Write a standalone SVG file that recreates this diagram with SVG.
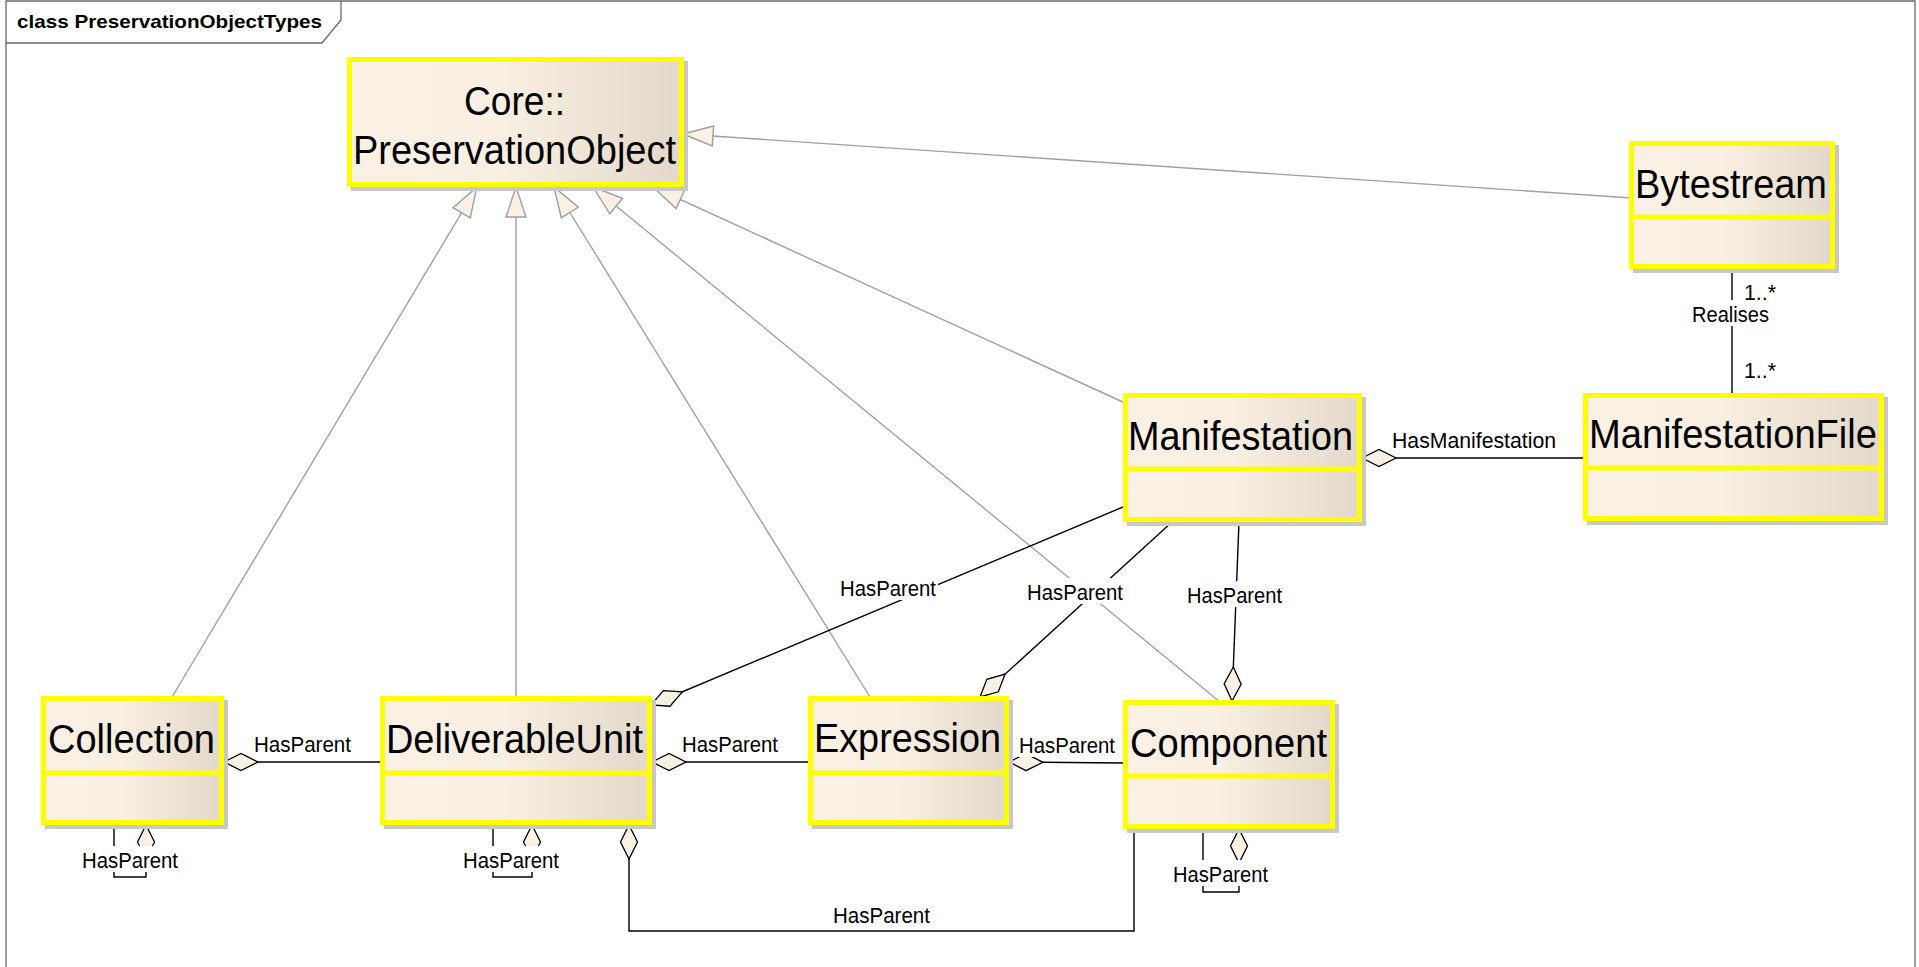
<svg xmlns="http://www.w3.org/2000/svg" width="1919" height="967" viewBox="0 0 1919 967">
<style>
.frame{fill:none;stroke:#6a6a6a;stroke-width:1.3}
.title{font-family:"Liberation Sans",Arial,sans-serif;font-weight:bold;font-size:19px;fill:#000}
.shadow{fill:#c8c8c8}
.box{fill:url(#g);stroke:#ffff00;stroke-width:5}
.div{stroke:#ffff00;stroke-width:5}
.name{font-family:"Liberation Sans",Arial,sans-serif;font-size:41px;fill:#000;text-anchor:middle}
.gen{fill:none;stroke:#a0a0a0;stroke-width:1.4;marker-end:url(#tri)}
.assoc{fill:none;stroke:#000;stroke-width:1.4}
.agg{marker-start:url(#dia)}
.lbl{font-family:"Liberation Sans",Arial,sans-serif;font-size:22px;fill:#000}
.bg{fill:#fff}
</style>
<defs>
<linearGradient id="g" x1="0" y1="0" x2="1" y2="0">
<stop offset="0" stop-color="#faf0e3"/>
<stop offset="0.45" stop-color="#f9efe2"/>
<stop offset="1" stop-color="#e2d9ca"/>
</linearGradient>
<marker id="dia" markerUnits="userSpaceOnUse" orient="auto" overflow="visible" refX="0" refY="0" markerWidth="1" markerHeight="1">
<path d="M0,0 L17,-8.5 L34,0 L17,8.5 Z" fill="#faf0e3" stroke="#000" stroke-width="1.3"/>
</marker>
<marker id="tri" markerUnits="userSpaceOnUse" orient="auto" overflow="visible" refX="0" refY="0" markerWidth="1" markerHeight="1">
<path d="M0,0 L-30,-10 L-30,10 Z" fill="#faf0e3" stroke="#a0a0a0" stroke-width="1.4"/>
</marker>
</defs>
<rect x="0" y="0" width="1919" height="967" fill="#fff"/>
<g id="frame">
<path class="frame" d="M6,968 V1 H1915 V968"/>
<path class="frame" d="M6,43 H322 L341,20 V1"/>
<text class="title" x="17" y="28" textLength="305" lengthAdjust="spacingAndGlyphs">class PreservationObjectTypes</text>
</g>
<g id="connectors">
<path class="gen" d="M172,697 L477,187"/>
<path class="gen" d="M516,696 L516,187"/>
<path class="gen" d="M870,697 L554,187"/>
<path class="gen" d="M1220,702 L593,187"/>
<path class="gen" d="M1125,403 L653,187"/>
<path class="gen" d="M1632,198 L683,134"/>
<path class="assoc agg" d="M224,762 L380,762"/>
<path class="assoc agg" d="M652,762 L808,762"/>
<path class="assoc agg" d="M1009,762 L1123,763"/>
<path class="assoc agg" d="M651,705 L1123,507"/>
<path class="assoc agg" d="M980,697 L1172,522"/>
<path class="assoc agg" d="M1232,701 L1239,522"/>
<path class="assoc agg" d="M1362,458 L1583,458"/>
<path class="assoc" d="M1732,269 L1732,393"/>
<path class="assoc agg" d="M629,825 V931 H1134 V829"/>
<path class="assoc agg" d="M146,825 V877 H114 V825"/>
<path class="assoc agg" d="M532,825 V877 H493 V825"/>
<path class="assoc agg" d="M1239,829 V892 H1203 V829"/>
</g>
<g id="labels">
<rect class="bg" x="253" y="730" width="99" height="26"/><text class="lbl" x="254" y="752" textLength="97" lengthAdjust="spacingAndGlyphs">HasParent</text>
<rect class="bg" x="681" y="730" width="99" height="26"/><text class="lbl" x="682" y="752" textLength="96" lengthAdjust="spacingAndGlyphs">HasParent</text>
<rect class="bg" x="1018" y="731" width="99" height="26"/><text class="lbl" x="1019" y="753" textLength="96" lengthAdjust="spacingAndGlyphs">HasParent</text>
<rect class="bg" x="839" y="574" width="99" height="26"/><text class="lbl" x="840" y="596" textLength="96" lengthAdjust="spacingAndGlyphs">HasParent</text>
<rect class="bg" x="1026" y="578" width="99" height="26"/><text class="lbl" x="1027" y="600" textLength="96" lengthAdjust="spacingAndGlyphs">HasParent</text>
<rect class="bg" x="1186" y="581" width="99" height="26"/><text class="lbl" x="1187" y="603" textLength="95" lengthAdjust="spacingAndGlyphs">HasParent</text>
<rect class="bg" x="1391" y="426" width="166" height="26"/><text class="lbl" x="1392" y="448" textLength="164" lengthAdjust="spacingAndGlyphs">HasManifestation</text>
<rect class="bg" x="1691" y="300" width="80" height="26"/><text class="lbl" x="1692" y="322" textLength="77" lengthAdjust="spacingAndGlyphs">Realises</text>
<text class="lbl" x="1744" y="300" textLength="32" lengthAdjust="spacingAndGlyphs">1..*</text>
<text class="lbl" x="1744" y="378" textLength="32" lengthAdjust="spacingAndGlyphs">1..*</text>
<rect class="bg" x="81" y="846" width="99" height="26"/><text class="lbl" x="82" y="868" textLength="96" lengthAdjust="spacingAndGlyphs">HasParent</text>
<rect class="bg" x="462" y="846" width="99" height="26"/><text class="lbl" x="463" y="868" textLength="96" lengthAdjust="spacingAndGlyphs">HasParent</text>
<rect class="bg" x="1172" y="860" width="98" height="26"/><text class="lbl" x="1173" y="882" textLength="95" lengthAdjust="spacingAndGlyphs">HasParent</text>
<rect class="bg" x="832" y="901" width="99" height="26"/><text class="lbl" x="833" y="923" textLength="97" lengthAdjust="spacingAndGlyphs">HasParent</text>
</g>
<g id="core">
<rect class="shadow" x="351" y="61" width="337" height="130"/>
<rect class="box" x="349.5" y="59.5" width="332" height="125"/>
<text class="name" x="514.5" y="115" textLength="101" lengthAdjust="spacingAndGlyphs">Core::</text>
<text class="name" x="514.5" y="164" textLength="323" lengthAdjust="spacingAndGlyphs">PreservationObject</text>
</g>
<g id="bytestream">
<rect class="shadow" x="1633" y="145" width="206" height="128"/>
<rect class="box" x="1631.5" y="143.5" width="201" height="123"/>
<line class="div" x1="1631.5" y1="217" x2="1832.5" y2="217"/>
<text class="name" x="1731" y="198" textLength="192" lengthAdjust="spacingAndGlyphs">Bytestream</text>
</g>
<g id="manifestation">
<rect class="shadow" x="1127" y="397" width="239" height="129"/>
<rect class="box" x="1125.5" y="395.5" width="234" height="124"/>
<line class="div" x1="1125.5" y1="469" x2="1359.5" y2="469"/>
<text class="name" x="1240.5" y="450" textLength="225" lengthAdjust="spacingAndGlyphs">Manifestation</text>
</g>
<g id="manifestationfile">
<rect class="shadow" x="1587" y="397" width="301" height="128"/>
<rect class="box" x="1585.5" y="395.5" width="296" height="123"/>
<line class="div" x1="1585.5" y1="468" x2="1881.5" y2="468"/>
<text class="name" x="1733" y="448" textLength="288" lengthAdjust="spacingAndGlyphs">ManifestationFile</text>
</g>
<g id="collection">
<rect class="shadow" x="45" y="700" width="183" height="129"/>
<rect class="box" x="43.5" y="698.5" width="178" height="124"/>
<line class="div" x1="43.5" y1="773" x2="221.5" y2="773"/>
<text class="name" x="131.5" y="753" textLength="167" lengthAdjust="spacingAndGlyphs">Collection</text>
</g>
<g id="deliverableunit">
<rect class="shadow" x="384" y="700" width="272" height="129"/>
<rect class="box" x="382.5" y="698.5" width="267" height="124"/>
<line class="div" x1="382.5" y1="773" x2="649.5" y2="773"/>
<text class="name" x="514.5" y="753" textLength="257" lengthAdjust="spacingAndGlyphs">DeliverableUnit</text>
</g>
<g id="expression">
<rect class="shadow" x="812" y="700" width="201" height="129"/>
<rect class="box" x="810.5" y="698.5" width="196" height="124"/>
<line class="div" x1="810.5" y1="773" x2="1006.5" y2="773"/>
<text class="name" x="907.5" y="752" textLength="187" lengthAdjust="spacingAndGlyphs">Expression</text>
</g>
<g id="component">
<rect class="shadow" x="1127" y="704" width="212" height="129"/>
<rect class="box" x="1125.5" y="702.5" width="207" height="124"/>
<line class="div" x1="1125.5" y1="776" x2="1332.5" y2="776"/>
<text class="name" x="1228.5" y="757" textLength="197" lengthAdjust="spacingAndGlyphs">Component</text>
</g>
</svg>
